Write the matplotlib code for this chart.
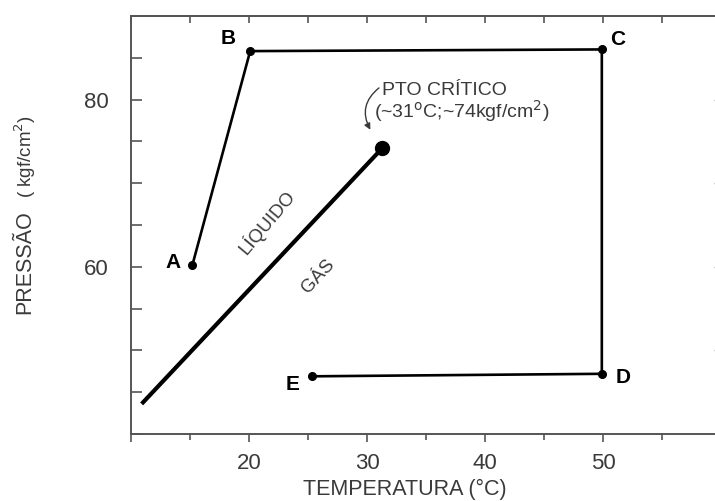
import matplotlib
matplotlib.use("Agg")
import matplotlib.pyplot as plt

plt.rcParams['font.family'] = ['Liberation Sans', 'DejaVu Sans']

# Path A -> B -> C -> D -> E (temperature °C, pressure kgf/cm²)
path_labels = ['A', 'B', 'C', 'D', 'E']
path_temp = [15.2, 20.1, 49.9, 49.9, 25.3]
path_press = [60.2, 85.8, 86.0, 47.2, 46.9]

# Liquid/gas saturation line ending at the critical point
sat_temp = [10.9, 31.3]
sat_press = [43.6, 74.2]
crit_temp, crit_press = sat_temp[-1], sat_press[-1]

x_major = [10, 20, 30, 40, 50, 60]
x_major_labels = ['', '20', '30', '40', '50', '']
x_minor = [15, 25, 35, 45, 55]
y_ticks = [40, 45, 50, 55, 60, 65, 70, 75, 80, 85, 90]
y_tick_labels = ['', '', '', '', '60', '', '', '', '80', '', '']

# label offsets in pixels relative to each path point
label_offsets = {'A': (-19, 3), 'B': (-22, 13), 'C': (16, 10), 'D': (21, -4), 'E': (-19, -8)}

text_gray = '#3a3a3a'
spine_gray = '#555555'

fig = plt.figure(figsize=(7.15, 5.01), dpi=100)
ax = fig.add_axes([131 / 715, 1 - 434 / 501, 590 / 715, 418 / 501])
ax.set_xlim(10, 60)
ax.set_ylim(40, 90)

ax.plot(sat_temp, sat_press, color='black', lw=3.0, solid_capstyle='butt', zorder=3)
ax.plot([crit_temp], [crit_press], 'o', color='black', ms=10, zorder=4)

ax.plot(path_temp, path_press, color='black', lw=1.9, marker='o', ms=5.5, zorder=3)

for lab, t, p in zip(path_labels, path_temp, path_press):
    dx, dy = label_offsets[lab]
    ax.annotate(lab, (t, p), xytext=(dx, dy), textcoords='offset pixels',
                ha='center', va='center', fontsize=15, fontweight='bold', color='black')

# critical point annotation
ax.text(31.3, 81.1, 'PTO CRÍTICO', fontsize=14, color=text_gray, ha='left', va='center')
ax.text(30.6, 78.6, f'(~{crit_temp:.0f}$^{{\\rm o}}$C;~{crit_press:.0f}kgf/cm$^{{\\rm 2}}$)',
        fontsize=14, color=text_gray, ha='left', va='center')
ax.annotate('', xy=(30.4, 76.1), xytext=(31.2, 81.6),
            arrowprops=dict(arrowstyle='-|>', color=text_gray, lw=1.0,
                            connectionstyle='arc3,rad=0.45', mutation_scale=9))

ax.text(21.5, 65.4, 'LÍQUIDO', rotation=50, fontsize=13.5, color=text_gray,
        ha='center', va='center', rotation_mode='anchor')
ax.text(25.9, 58.8, 'GÁS', rotation=47, fontsize=13.5, color=text_gray,
        ha='center', va='center', rotation_mode='anchor')

for s in ax.spines.values():
    s.set_color(spine_gray)
    s.set_linewidth(1.4)

ax.set_xticks(x_major)
ax.set_xticklabels(x_major_labels)
ax.set_xticks(x_minor, minor=True)
ax.set_yticks(y_ticks)
ax.set_yticklabels(y_tick_labels)
ax.tick_params(axis='x', which='major', direction='out', length=6, width=1.2,
               color=spine_gray, labelsize=16, labelcolor=text_gray, pad=8)
ax.tick_params(axis='x', which='minor', direction='out', length=4, width=1.2, color=spine_gray)
ax.tick_params(axis='y', which='major', direction='in', length=8, width=1.2,
               color=spine_gray, labelsize=16, labelcolor=text_gray, pad=16)

top = ax.secondary_xaxis('top')
top.set_xticks(x_major + x_minor)
top.set_xticklabels([])
top.tick_params(direction='in', length=5, width=1.2, color=spine_gray)
top.spines['top'].set_color(spine_gray)
top.spines['top'].set_linewidth(1.4)

right = ax.secondary_yaxis('right')
right.set_yticks([50, 60, 70, 80])
right.set_yticklabels([])
right.tick_params(direction='in', length=5, width=1.0, color='#999999')

fig.text(405 / 715, 1 - 489 / 501, 'TEMPERATURA (°C)', fontsize=15.5, color=text_gray,
         ha='center', va='center')
fig.text(25 / 715, 1 - 262 / 501, 'PRESSÃO', fontsize=15.5, color=text_gray,
         rotation=90, ha='center', va='center')
fig.text(25 / 715, 1 - 157 / 501, '( kgf/cm$^{\\rm 2}$)', fontsize=13.5, color=text_gray,
         rotation=90, ha='center', va='center')

fig.savefig('out.png', dpi=100, facecolor='white')
